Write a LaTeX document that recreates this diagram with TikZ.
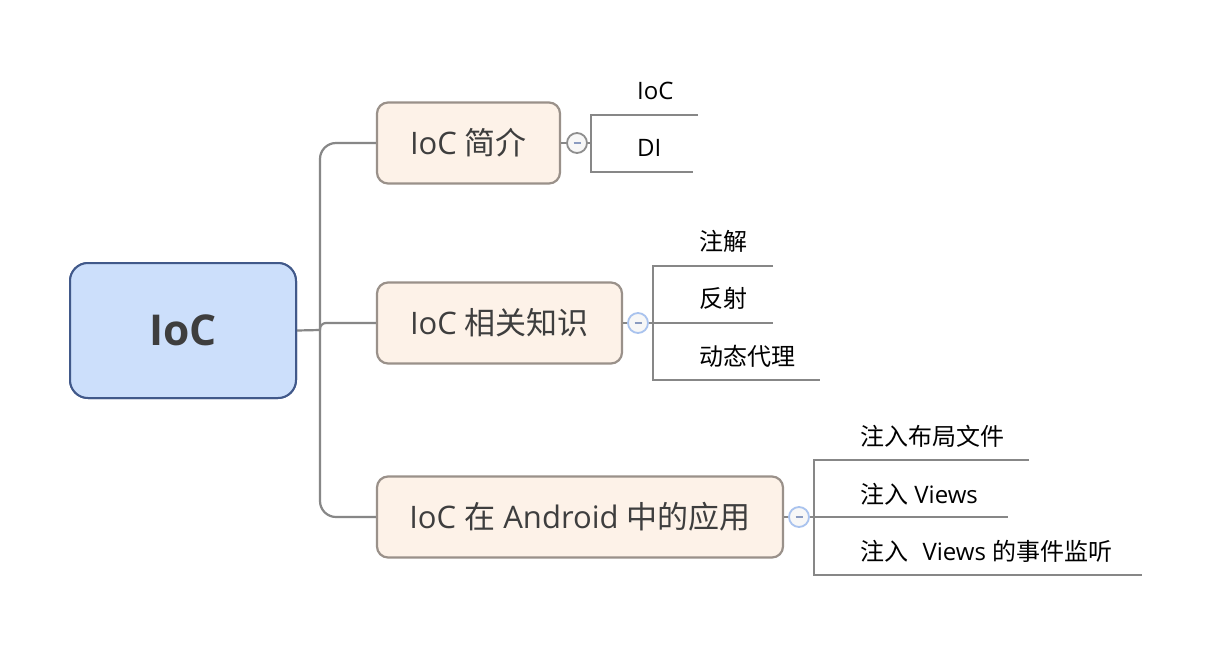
\documentclass[tikz,border=0pt]{standalone}
\usepackage{fontspec}
\setmainfont{Open Sans}
\newfontfamily\cjk{Noto Sans CJK SC}
\begin{document}
\begin{tikzpicture}[x=1pt,y=-1pt,
  conn/.style={draw=black!47,line width=2.2pt},
  rootbox/.style={draw=rootborder,fill=rootfill,line width=2pt,rounded corners=18pt,
    minimum width=226pt,minimum height=135pt,inner sep=0pt,text=textc,
    font=\fontsize{42.5}{50}\selectfont\bfseries},
  topicbox/.style={draw=topborder,fill=topfill,line width=2.2pt,rounded corners=11pt,
    minimum height=81pt,inner sep=0pt,text=textc,font=\fontsize{31}{37}\selectfont},
  collapse/.style={circle,draw=#1,fill=black!3,line width=1.8pt,minimum size=20pt,inner sep=0pt},
  subtxt/.style={anchor=base west,inner sep=0pt,text=black,font=\fontsize{24}{29}\selectfont},
]
\definecolor{rootfill}{HTML}{CCDFFB}
\definecolor{rootborder}{HTML}{41598A}
\definecolor{topfill}{HTML}{FDF2E8}
\definecolor{topborder}{HTML}{9A918A}
\definecolor{textc}{HTML}{3E3E3E}
\definecolor{cgray}{HTML}{8E8E8E}
\definecolor{cblue}{HTML}{A9C3EE}
\definecolor{minusc}{HTML}{8A9BC0}
\useasboundingbox (0,0) rectangle (1232,670);
\fill[white] (0,0) rectangle (1232,670);

% central and topics
\node[rootbox] (root) at (183,330.5) {IoC};
\node[topicbox,minimum width=183pt] (b1) at (468.5,143) {IoC {\cjk 简介}};
\node[topicbox,minimum width=245pt] (b2) at (499.5,323) {IoC {\cjk 相关知识}};
\node[topicbox,minimum width=406pt] (b3) at (580,517) {IoC {\cjk 在} Android {\cjk 中的应用}};

% trunk
\coordinate (tr) at (320,330);
\draw[conn] (root.east) -- (tr);
\draw[conn,rounded corners=16pt] (tr) |- (b1.west);
\draw[conn,rounded corners=16pt] (tr) |- (b3.west);
\draw[conn,rounded corners=6pt] (tr) |- (b2.west);
\node[rootbox] at (root) {IoC};

% collapse buttons
\draw[conn] (b1.east) -- (577,143);
\draw[conn] (b2.east) -- (638,323);
\draw[conn] (b3.east) -- (799,517);
\node[collapse=cgray] (c1) at (577,143) {};
\node[collapse=cblue] (c2) at (638,323) {};
\node[collapse=cblue] (c3) at (799,517) {};
\foreach \c in {c1,c2,c3} \draw[line width=1.6pt,draw=minusc] ([xshift=-3.5pt]\c.center) -- ([xshift=3.5pt]\c.center);

% bracket 1
\coordinate (k1m) at (591,143);
\coordinate (k1a) at (591,115); \coordinate (k1ae) at (698,115);
\coordinate (k1b) at (591,172); \coordinate (k1be) at (693,172);
\draw[conn] (c1.east) -- (k1m);
\draw[conn] (k1ae) -- (k1a) -- (k1b) -- (k1be);
\node[subtxt] (s11) at (637,99) {IoC};
\node[subtxt] (s12) at (637,156) {DI};

% bracket 2
\coordinate (k2m) at (653,323);
\coordinate (k2a) at (653,266); \coordinate (k2ae) at (773,266);
\coordinate (k2e) at (773,323);
\coordinate (k2b) at (653,380); \coordinate (k2be) at (820,380);
\draw[conn] (c2.east) -- (k2m) -- (k2e);
\draw[conn] (k2ae) -- (k2a) -- (k2b) -- (k2be);
\node[subtxt] (s21) at (699,250) {\cjk 注解};
\node[subtxt] (s22) at (699,307) {\cjk 反射};
\node[subtxt] (s23) at (699,365) {\cjk 动态代理};

% bracket 3
\coordinate (k3m) at (814,517);
\coordinate (k3a) at (814,460); \coordinate (k3ae) at (1029,460);
\coordinate (k3e) at (1008,517);
\coordinate (k3b) at (814,575); \coordinate (k3be) at (1142,575);
\draw[conn] (c3.east) -- (k3m) -- (k3e);
\draw[conn] (k3ae) -- (k3a) -- (k3b) -- (k3be);
\node[subtxt] (s31) at (860,445) {\cjk 注入布局文件};
\node[subtxt] (s32) at (860,503) {{\cjk 注入} Views};
\node[subtxt] (s33) at (860,560) {{\cjk 注入}\hspace{0.6em}Views {\cjk 的事件监听}};
\end{tikzpicture}
\end{document}
